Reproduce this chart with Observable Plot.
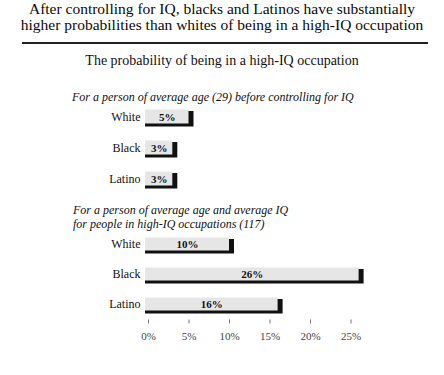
<!DOCTYPE html>
<html><head><meta charset="utf-8">
<script src="https://cdn.jsdelivr.net/npm/d3@7"></script>
<script src="https://cdn.jsdelivr.net/npm/@observablehq/plot@0.6"></script>
<style>
body{margin:0;background:#fff;width:444px;height:375px;position:relative;overflow:hidden;font-family:"Liberation Serif","Times New Roman",serif;color:#111}
.abs{position:absolute;white-space:nowrap;line-height:1}
.plotbox{position:absolute;left:0}
</style></head><body>
<script>
const groups = ["White", "Black", "Latino"];
const beforeIQ = [5, 3, 3];
const afterIQ = [10, 26, 16];
const tickValues = [0, 5, 10, 15, 20, 25];
const tickLabels = ["0%", "5%", "10%", "15%", "20%", "25%"];
const titleLines = [
  "After controlling for IQ, blacks and Latinos have substantially",
  "higher probabilities than whites of being in a high-IQ occupation"
];
const heading = "The probability of being in a high-IQ occupation";
const subtitle1 = ["For a person of average age (29) before controlling for IQ"];
const subtitle2 = ["For a person of average age and average IQ", "for people in high-IQ occupations (117)"];

function addText(txt, style) {
  const d = document.createElement("div");
  d.className = "abs";
  d.textContent = txt;
  Object.assign(d.style, style);
  document.body.appendChild(d);
  return d;
}

// title
titleLines.forEach((t, i) => addText(t, {top: (1 + i * 15.5) + "px", left: "0", width: "444px", textAlign: "center", fontSize: "15.5px", color: "#0a0a0a"}));
const rule = document.createElement("div");
Object.assign(rule.style, {position: "absolute", left: "22px", width: "406px", top: "42px", height: "1.5px", background: "#222"});
document.body.appendChild(rule);
addText(heading, {top: "54.3px", left: "0", width: "444px", textAlign: "center", fontSize: "14px"});
subtitle1.forEach((t, i) => addText(t, {top: (91 + i * 14) + "px", left: "72px", fontSize: "12px", fontStyle: "italic"}));
subtitle2.forEach((t, i) => addText(t, {top: (204 + i * 14) + "px", left: "73px", fontSize: "12px", fontStyle: "italic"}));

function barPlot(values, top, height, marginBottom, withAxis) {
  const data = groups.map((g, i) => ({group: g, value: values[i]}));
  const marks = [
    Plot.barX(data, {y: "group", x1: 0, x2: "value", fill: "#111", insetLeft: -3, insetRight: -5, insetTop: 10, insetBottom: 5.5}),
    Plot.barX(data, {y: "group", x1: 0, x2: "value", fill: "#e6e6e6", insetLeft: -3, insetTop: 8.5, insetBottom: 8.5}),
    Plot.text(data, {y: "group", x: d => d.value / 2, text: d => d.value + "%", dx: -1.5, fontWeight: "bold", fontSize: 11, fill: "#111"}),
    Plot.axisY({tickSize: 0, tickPadding: 8, fontSize: 12, label: null, fill: "#111"})
  ];
  if (withAxis) {
    marks.push(Plot.axisX({ticks: tickValues, tickFormat: (d) => tickLabels[tickValues.indexOf(d)], tickSize: 4, tickPadding: 8, fontSize: 11, stroke: "#777", fill: "#444", label: null}));
  }
  const p = Plot.plot({
    width: 444, height, marginLeft: 148, marginRight: 93.5, marginTop: 0, marginBottom,
    x: {domain: [0, 25], axis: null},
    y: {domain: groups, padding: 0, axis: null},
    style: {background: "transparent", fontFamily: "Liberation Serif, serif", overflow: "visible"},
    marks
  });
  const box = document.createElement("div");
  box.className = "plotbox";
  box.style.top = top + "px";
  box.appendChild(p);
  document.body.appendChild(box);
}

barPlot(beforeIQ, 101, 93, 0, false);
barPlot(afterIQ, 227.75, 91.5 + 30, 30, true);
</script>
</body></html>
